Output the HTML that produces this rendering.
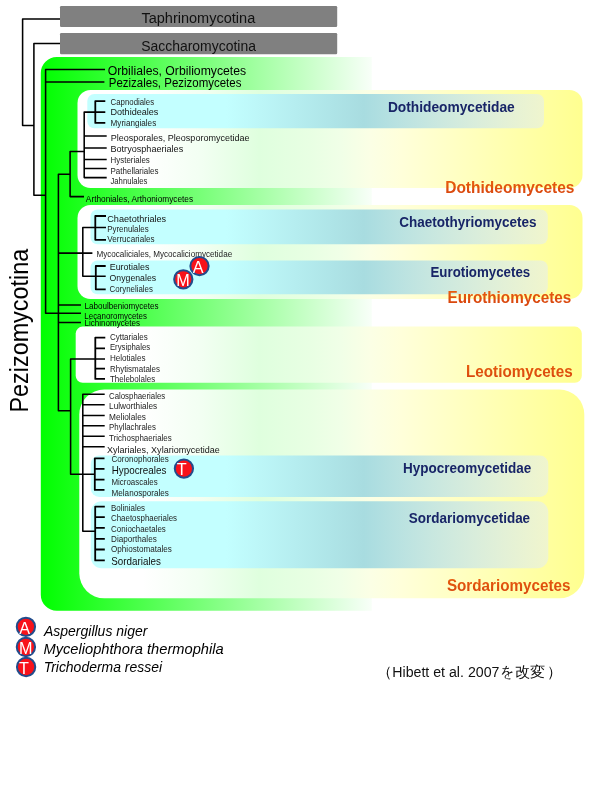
<!DOCTYPE html>
<html lang="en"><head><meta charset="utf-8"><title>Pezizomycotina phylogeny</title>
<style>
html,body{margin:0;padding:0;background:#fff;}
body{width:600px;height:800px;overflow:hidden;font-family:"Liberation Sans",sans-serif;}
svg{display:block;will-change:transform;}
svg text{font-family:"Liberation Sans",sans-serif;}
</style></head><body>
<svg width="600" height="800" viewBox="0 0 600 800">
<defs>
<linearGradient id="gG" gradientUnits="userSpaceOnUse" x1="41" y1="0" x2="381" y2="0">
<stop offset="0" stop-color="#00ff00"/><stop offset="1" stop-color="#ffffff"/>
</linearGradient>
<linearGradient id="gW" gradientUnits="userSpaceOnUse" x1="77" y1="0" x2="583" y2="0">
<stop offset="0" stop-color="#ffffff"/>
<stop offset="0.13" stop-color="#ffffff"/>
<stop offset="0.24" stop-color="#f3fff3"/>
<stop offset="0.36" stop-color="#dfffde"/>
<stop offset="0.46" stop-color="#e8ffe3"/>
<stop offset="0.52" stop-color="#f0ffe7"/>
<stop offset="0.58" stop-color="#fbffe5"/>
<stop offset="0.64" stop-color="#ffffda"/>
<stop offset="1" stop-color="#ffff90"/>
</linearGradient>
<linearGradient id="gC" gradientUnits="userSpaceOnUse" x1="88" y1="0" x2="548" y2="0">
<stop offset="0" stop-color="#c3ffff"/>
<stop offset="0.30" stop-color="#c3ffff"/>
<stop offset="0.60" stop-color="#a8dce0"/>
<stop offset="1" stop-color="#e8f0e6" stop-opacity="0.65"/>
</linearGradient>
<linearGradient id="gO" x1="0" y1="0" x2="0" y2="1">
<stop offset="0.15" stop-color="#e85e0e"/><stop offset="0.85" stop-color="#d9470e"/>
</linearGradient>
</defs>

<rect x="60" y="6" width="277.2" height="21" rx="1.2" fill="#808080"/>
<rect x="60" y="33" width="277.2" height="21.3" rx="1.2" fill="#808080"/>
<path d="M56.8 57H371.8V610.8H56.8A16 16 0 0 1 40.8 594.8V73A16 16 0 0 1 56.8 57Z" fill="url(#gG)"/>
<rect x="77.5" y="90" width="505.0" height="98.0" rx="13" fill="url(#gW)"/>
<rect x="77.5" y="205" width="505.0" height="94.0" rx="13" fill="url(#gW)"/>
<rect x="75.7" y="326.6" width="506.1" height="56.2" rx="7" fill="url(#gW)"/>
<rect x="79.3" y="389.5" width="505.0" height="208.8" rx="25" fill="url(#gW)"/>
<rect x="87.3" y="94" width="456.7" height="34.3" rx="7" fill="url(#gC)"/>
<rect x="90.5" y="209.5" width="457.3" height="34.7" rx="7" fill="url(#gC)"/>
<rect x="90.5" y="260.4" width="457.3" height="33.9" rx="7" fill="url(#gC)"/>
<rect x="90.8" y="455.5" width="457.5" height="41.5" rx="8.5" fill="url(#gC)"/>
<rect x="90.8" y="501.2" width="457.5" height="67.0" rx="11" fill="url(#gC)"/>
<path d="M60.00 19.00L22.60 19.00L22.60 125.50L33.90 125.50M60.00 43.50L33.90 43.50L33.90 195.20L45.60 195.20M105.00 69.50L45.60 69.50L45.60 313.30L81.00 313.30M45.60 82.00L104.40 82.00M70.10 174.20L58.40 174.20L58.40 410.80L70.60 410.80M84.20 151.50L70.10 151.50L70.10 196.60L84.00 196.60M105.30 112.10L84.20 112.10L84.20 177.60L106.70 177.60M84.20 136.00L106.70 136.00M84.20 148.00L106.70 148.00M84.20 159.40L106.70 159.40M84.20 168.40L106.70 168.40M58.40 253.10L92.40 253.10M106.00 227.40L82.80 227.40L82.80 276.30L105.70 276.30M58.40 305.00L81.00 305.00M58.40 322.50L81.00 322.50M105.00 359.00L70.60 359.00L70.60 474.20L94.80 474.20M104.70 394.30L82.80 394.30L82.80 531.30L95.20 531.30M82.80 404.80L104.70 404.80M82.80 415.50L104.70 415.50M82.80 425.70L104.70 425.70M82.80 436.20L104.70 436.20M82.80 446.70L104.70 446.70" fill="none" stroke="#000" stroke-width="1.55" stroke-linejoin="round"/>
<path d="M105.30 101.10L95.30 101.10L95.30 122.90L105.30 122.90M106.00 216.00L95.30 216.00L95.30 239.80L106.00 239.80M105.70 266.00L95.80 266.00L95.80 289.30L105.70 289.30M105.30 337.60L95.30 337.60L95.30 378.90L105.00 378.90M95.30 348.30L105.00 348.30M95.30 368.70L105.00 368.70M104.50 458.30L94.80 458.30L94.80 489.90L104.50 489.90M94.80 468.90L104.50 468.90M94.80 479.70L104.50 479.70M104.80 506.60L95.20 506.60L95.20 560.40L104.80 560.40M95.20 517.20L104.80 517.20M95.20 527.90L104.80 527.90M95.20 538.80L104.80 538.80M95.20 549.50L104.80 549.50" fill="none" stroke="#000" stroke-width="1.8" stroke-linejoin="round"/>
<text x="141.41" y="23.3" font-size="14.28" fill="#111111" textLength="113.85" lengthAdjust="spacingAndGlyphs">Taphrinomycotina</text>
<text x="141.24" y="50.9" font-size="14.28" fill="#111111" textLength="114.67" lengthAdjust="spacingAndGlyphs">Saccharomycotina</text>
<text x="107.63" y="74.7" font-size="12.24" fill="#000" textLength="138.55" lengthAdjust="spacingAndGlyphs">Orbiliales, Orbiliomycetes</text>
<text x="108.78" y="87.0" font-size="12.24" fill="#000" textLength="132.64" lengthAdjust="spacingAndGlyphs">Pezizales, Pezizomycetes</text>
<text x="110.60" y="104.6" font-size="8.16" fill="#242424" textLength="43.50" lengthAdjust="spacingAndGlyphs">Capnodiales</text>
<text x="110.49" y="115.3" font-size="9.18" fill="#141414" textLength="47.94" lengthAdjust="spacingAndGlyphs">Dothideales</text>
<text x="110.57" y="126.4" font-size="8.16" fill="#242424" textLength="45.65" lengthAdjust="spacingAndGlyphs">Myriangiales</text>
<text x="110.70" y="140.7" font-size="9.18" fill="#141414" textLength="138.83" lengthAdjust="spacingAndGlyphs">Pleosporales, Pleosporomycetidae</text>
<text x="110.47" y="151.7" font-size="9.18" fill="#141414" textLength="72.75" lengthAdjust="spacingAndGlyphs">Botryosphaeriales</text>
<text x="110.55" y="163.3" font-size="8.16" fill="#242424" textLength="39.21" lengthAdjust="spacingAndGlyphs">Hysteriales</text>
<text x="110.52" y="174.0" font-size="8.16" fill="#242424" textLength="47.94" lengthAdjust="spacingAndGlyphs">Pathellariales</text>
<text x="110.47" y="184.0" font-size="8.16" fill="#242424" textLength="36.88" lengthAdjust="spacingAndGlyphs">Jahnulales</text>
<text x="85.88" y="201.6" font-size="8.16" fill="#000" textLength="107.25" lengthAdjust="spacingAndGlyphs">Arthoniales, Arthoniomycetes</text>
<text x="107.28" y="221.6" font-size="9.18" fill="#141414" textLength="58.94" lengthAdjust="spacingAndGlyphs">Chaetothriales</text>
<text x="107.26" y="231.6" font-size="8.16" fill="#242424" textLength="41.37" lengthAdjust="spacingAndGlyphs">Pyrenulales</text>
<text x="107.26" y="242.4" font-size="8.16" fill="#242424" textLength="47.29" lengthAdjust="spacingAndGlyphs">Verrucariales</text>
<text x="96.39" y="257.2" font-size="8.16" fill="#242424" textLength="135.79" lengthAdjust="spacingAndGlyphs">Mycocaliciales, Mycocaliciomycetidae</text>
<text x="109.70" y="270.4" font-size="9.18" fill="#141414" textLength="39.72" lengthAdjust="spacingAndGlyphs">Eurotiales</text>
<text x="109.60" y="281.4" font-size="9.18" fill="#141414" textLength="46.52" lengthAdjust="spacingAndGlyphs">Onygenales</text>
<text x="109.54" y="292.4" font-size="8.16" fill="#242424" textLength="43.41" lengthAdjust="spacingAndGlyphs">Coryneliales</text>
<text x="84.42" y="309.3" font-size="8.16" fill="#000" textLength="74.14" lengthAdjust="spacingAndGlyphs">Laboulbeniomycetes</text>
<text x="84.35" y="319.0" font-size="8.16" fill="#000" textLength="62.58" lengthAdjust="spacingAndGlyphs">Lecanoromycetes</text>
<text x="84.53" y="326.3" font-size="8.16" fill="#000" textLength="55.46" lengthAdjust="spacingAndGlyphs">Lichinomycetes</text>
<text x="109.92" y="340.0" font-size="8.16" fill="#242424" textLength="37.75" lengthAdjust="spacingAndGlyphs">Cyttariales</text>
<text x="109.88" y="350.0" font-size="8.16" fill="#242424" textLength="40.24" lengthAdjust="spacingAndGlyphs">Erysiphales</text>
<text x="109.89" y="361.3" font-size="8.16" fill="#242424" textLength="35.62" lengthAdjust="spacingAndGlyphs">Helotiales</text>
<text x="109.96" y="371.6" font-size="8.16" fill="#242424" textLength="50.09" lengthAdjust="spacingAndGlyphs">Rhytismatales</text>
<text x="109.88" y="382.3" font-size="8.16" fill="#242424" textLength="45.24" lengthAdjust="spacingAndGlyphs">Thelebolales</text>
<text x="109.01" y="399.0" font-size="8.16" fill="#242424" textLength="56.20" lengthAdjust="spacingAndGlyphs">Calosphaeriales</text>
<text x="109.05" y="409.3" font-size="8.16" fill="#242424" textLength="48.11" lengthAdjust="spacingAndGlyphs">Lulworthiales</text>
<text x="109.09" y="419.8" font-size="8.16" fill="#242424" textLength="36.82" lengthAdjust="spacingAndGlyphs">Meliolales</text>
<text x="109.09" y="429.8" font-size="8.16" fill="#242424" textLength="46.79" lengthAdjust="spacingAndGlyphs">Phyllachrales</text>
<text x="109.10" y="440.7" font-size="8.16" fill="#242424" textLength="62.70" lengthAdjust="spacingAndGlyphs">Trichosphaeriales</text>
<text x="107.07" y="452.5" font-size="9.18" fill="#141414" textLength="112.65" lengthAdjust="spacingAndGlyphs">Xylariales, Xylariomycetidae</text>
<text x="111.56" y="462.2" font-size="8.16" fill="#242424" textLength="57.29" lengthAdjust="spacingAndGlyphs">Coronophorales</text>
<text x="111.69" y="473.6" font-size="10.20" fill="#101010" textLength="54.70" lengthAdjust="spacingAndGlyphs">Hypocreales</text>
<text x="111.48" y="485.3" font-size="8.16" fill="#242424" textLength="46.23" lengthAdjust="spacingAndGlyphs">Microascales</text>
<text x="111.54" y="496.4" font-size="8.16" fill="#242424" textLength="57.32" lengthAdjust="spacingAndGlyphs">Melanosporales</text>
<text x="110.99" y="510.8" font-size="8.16" fill="#242424" textLength="34.12" lengthAdjust="spacingAndGlyphs">Boliniales</text>
<text x="110.99" y="520.7" font-size="8.16" fill="#242424" textLength="66.02" lengthAdjust="spacingAndGlyphs">Chaetosphaeriales</text>
<text x="111.09" y="531.6" font-size="8.16" fill="#242424" textLength="54.71" lengthAdjust="spacingAndGlyphs">Coniochaetales</text>
<text x="111.03" y="541.5" font-size="8.16" fill="#242424" textLength="45.74" lengthAdjust="spacingAndGlyphs">Diaporthales</text>
<text x="111.04" y="552.4" font-size="8.16" fill="#242424" textLength="60.91" lengthAdjust="spacingAndGlyphs">Ophiostomatales</text>
<text x="111.33" y="565.3" font-size="10.20" fill="#101010" textLength="49.63" lengthAdjust="spacingAndGlyphs">Sordariales</text>
<text x="387.90" y="111.8" font-size="14.28" font-weight="bold" fill="#182567" textLength="126.80" lengthAdjust="spacingAndGlyphs">Dothideomycetidae</text>
<text x="399.37" y="227.3" font-size="14.28" font-weight="bold" fill="#182567" textLength="137.26" lengthAdjust="spacingAndGlyphs">Chaetothyriomycetes</text>
<text x="430.50" y="276.7" font-size="14.28" font-weight="bold" fill="#182567" textLength="99.67" lengthAdjust="spacingAndGlyphs">Eurotiomycetes</text>
<text x="403.04" y="473.3" font-size="14.28" font-weight="bold" fill="#182567" textLength="128.20" lengthAdjust="spacingAndGlyphs">Hypocreomycetidae</text>
<text x="408.86" y="523.3" font-size="14.28" font-weight="bold" fill="#182567" textLength="121.26" lengthAdjust="spacingAndGlyphs">Sordariomycetidae</text>
<text x="445.20" y="193.2" font-size="16.32" font-weight="bold" fill="url(#gO)" textLength="129.32" lengthAdjust="spacingAndGlyphs">Dothideomycetes</text>
<text x="447.50" y="302.5" font-size="16.32" font-weight="bold" fill="url(#gO)" textLength="123.67" lengthAdjust="spacingAndGlyphs">Eurothiomycetes</text>
<text x="466.03" y="376.7" font-size="16.32" font-weight="bold" fill="url(#gO)" textLength="106.60" lengthAdjust="spacingAndGlyphs">Leotiomycetes</text>
<text x="446.90" y="591.0" font-size="16.32" font-weight="bold" fill="url(#gO)" textLength="123.60" lengthAdjust="spacingAndGlyphs">Sordariomycetes</text>
<text transform="translate(28 412.50) rotate(-90)" font-size="25.2" fill="#000" textLength="163.66" lengthAdjust="spacingAndGlyphs">Pezizomycotina</text>
<text x="44.03" y="635.6" font-size="14.28" font-style="italic" fill="#000" textLength="103.32" lengthAdjust="spacingAndGlyphs">Aspergillus niger</text>
<text x="43.49" y="653.6" font-size="14.28" font-style="italic" fill="#000" textLength="180.22" lengthAdjust="spacingAndGlyphs">Myceliophthora thermophila</text>
<text x="43.65" y="671.6" font-size="14.28" font-style="italic" fill="#000" textLength="118.42" lengthAdjust="spacingAndGlyphs">Trichoderma ressei</text>
<circle cx="183.3" cy="279.3" r="9.15" fill="#f8121a" stroke="#224c8c" stroke-width="2"/>
<text x="183.1" y="286.1" font-size="16.2" fill="#fff" text-anchor="middle">M</text>
<circle cx="199.5" cy="266.1" r="9.15" fill="#f8121a" stroke="#224c8c" stroke-width="2"/>
<text x="198.2" y="272.9" font-size="16.2" fill="#fff" text-anchor="middle">A</text>
<circle cx="183.9" cy="468.6" r="9.15" fill="#f8121a" stroke="#224c8c" stroke-width="2"/>
<text x="181.8" y="475.4" font-size="16.2" fill="#fff" text-anchor="middle">T</text>
<circle cx="25.9" cy="626.8" r="9.15" fill="#f8121a" stroke="#224c8c" stroke-width="2"/>
<text x="24.6" y="633.6" font-size="16.2" fill="#fff" text-anchor="middle">A</text>
<circle cx="25.9" cy="647.0" r="9.15" fill="#f8121a" stroke="#224c8c" stroke-width="2"/>
<text x="25.7" y="653.8" font-size="16.2" fill="#fff" text-anchor="middle">M</text>
<circle cx="26.1" cy="667.0" r="9.15" fill="#f8121a" stroke="#224c8c" stroke-width="2"/>
<text x="24.0" y="673.8" font-size="16.2" fill="#fff" text-anchor="middle">T</text>
<text x="392.30" y="676.7" font-size="13.77" fill="#111" textLength="107.11" lengthAdjust="spacingAndGlyphs">Hibett et al. 2007</text>
<g fill="#111" font-size="15" style="font-family:'Liberation Sans','Noto Sans CJK JP',sans-serif;">
<text x="391.5" y="676.7" text-anchor="end">（</text>
<text x="499.5" y="676.7" textLength="45.5" lengthAdjust="spacingAndGlyphs">を改変</text>
<text x="546.5" y="676.7">）</text>
</g>
</svg>
</body></html>
